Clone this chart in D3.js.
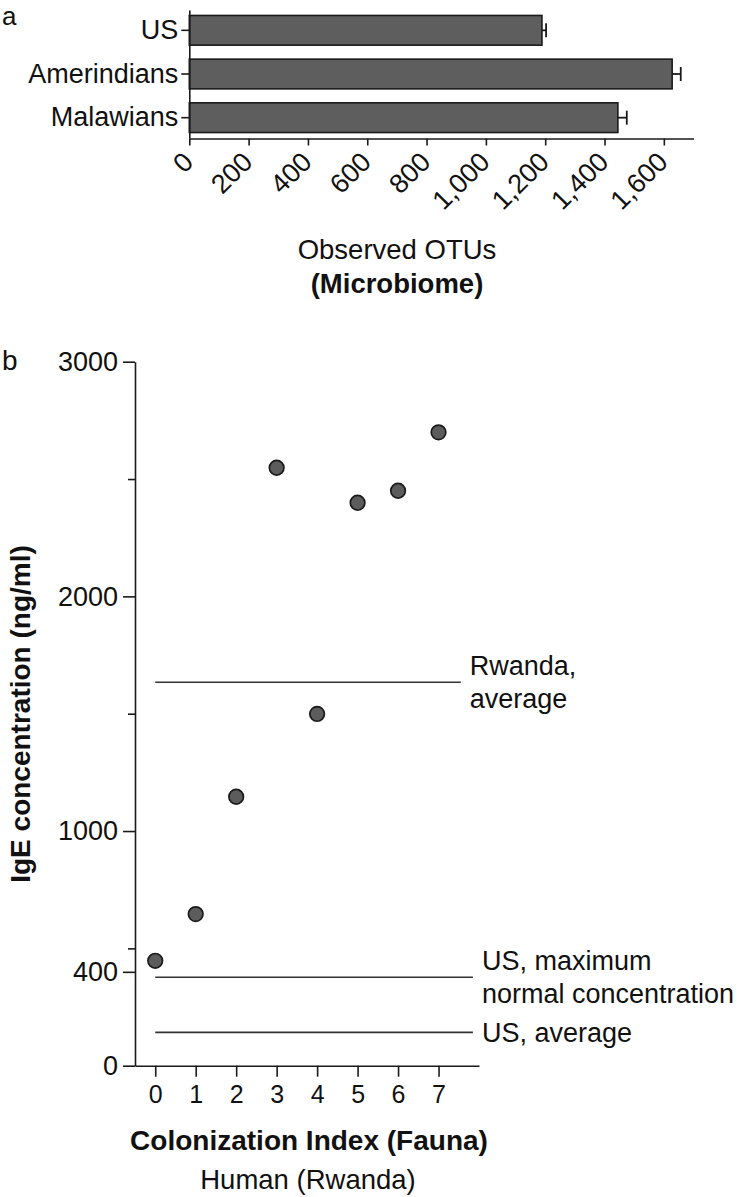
<!DOCTYPE html>
<html>
<head>
<meta charset="utf-8">
<script src="https://cdn.jsdelivr.net/npm/d3@7"></script>
<style>
  html, body { margin: 0; padding: 0; background: #fff; }
  svg text { font-family: "Liberation Sans", Arial, Helvetica, sans-serif; fill: #111; }
</style>
</head>
<body>
<svg id="chart" width="746" height="1197"></svg>
<script>
// ---------- Panel a data ----------
const groups = ["US", "Amerindians", "Malawians"];
const otus = [1189, 1628, 1445];
const otuErr = [14, 29, 30];
const otuTicks = [0, 200, 400, 600, 800, 1000, 1200, 1400, 1600];

// ---------- Panel b data ----------
const colonization = [0, 1, 2, 3, 4, 5, 6, 7];
const ige = [447, 646, 1146, 2548, 1499, 2399, 2450, 2699];
const igeTicks = [0, 400, 1000, 2000, 3000];
const igeMinorTicks = [500, 1500, 2500];
const colTicks = [0, 1, 2, 3, 4, 5, 6, 7];
const refNames = [["Rwanda,", "average"], ["US, maximum", "normal concentration"], ["US, average"]];
const refValues = [1634, 377, 142];
const refEnds = [7.55, 7.85, 7.85];

const svg = d3.select("#chart");
const ink = "#1a1a1a";

// ================= Panel a =================
const xa = d3.scaleLinear().domain([0, 1700]).range([189.3, 693.5]);
const ya = d3.scaleBand().domain(groups).range([10, 138]).paddingInner(0.32).paddingOuter(0.125);

svg.append("text").attr("x", 2).attr("y", 25).attr("font-size", 26).text("a");

const ga = svg.append("g");
ga.selectAll("rect.bar").data(groups).join("rect")
  .attr("class", "bar")
  .attr("x", xa(0))
  .attr("y", d => ya(d))
  .attr("width", (d, i) => xa(otus[i]) - xa(0))
  .attr("height", ya.bandwidth())
  .attr("fill", "#5e5e5e")
  .attr("stroke", ink).attr("stroke-width", 1.6);

// error bars (one-sided)
ga.selectAll("line.err").data(groups).join("line")
  .attr("x1", (d, i) => xa(otus[i]))
  .attr("x2", (d, i) => xa(otus[i] + otuErr[i]))
  .attr("y1", d => ya(d) + ya.bandwidth() / 2)
  .attr("y2", d => ya(d) + ya.bandwidth() / 2)
  .attr("stroke", ink).attr("stroke-width", 1.8);
ga.selectAll("line.cap").data(groups).join("line")
  .attr("x1", (d, i) => xa(otus[i] + otuErr[i]))
  .attr("x2", (d, i) => xa(otus[i] + otuErr[i]))
  .attr("y1", d => ya(d) + ya.bandwidth() / 2 - 7)
  .attr("y2", d => ya(d) + ya.bandwidth() / 2 + 7)
  .attr("stroke", ink).attr("stroke-width", 1.8);

// y axis (categories)
const yAxisA = svg.append("g").attr("transform", `translate(${xa(0)},0)`)
  .call(d3.axisLeft(ya).tickSize(8).tickSizeOuter(0).tickPadding(3));
yAxisA.selectAll("text").attr("font-size", 27).attr("fill", "#111");

// x axis
const xAxisA = svg.append("g").attr("transform", `translate(0,138.5)`)
  .call(d3.axisBottom(xa).tickValues(otuTicks).tickFormat(d3.format(",")).tickSize(7).tickSizeOuter(0));
xAxisA.selectAll("text")
  .attr("font-size", 27).attr("fill", "#111")
  .attr("x", 0).attr("y", 0).attr("dy", 0)
  .attr("text-anchor", "end")
  .attr("transform", "translate(5,25) rotate(-45)");

svg.append("text").attr("x", 397).attr("y", 259).attr("text-anchor", "middle")
  .attr("font-size", 27.5).text("Observed OTUs");
svg.append("text").attr("x", 397).attr("y", 293).attr("text-anchor", "middle")
  .attr("font-size", 27.5).attr("font-weight", "bold").text("(Microbiome)");

// style axes
svg.selectAll(".domain, .tick line").attr("stroke", ink).attr("stroke-width", 1.6);

// ================= Panel b =================
const xb = d3.scaleLinear().domain([-0.5, 8]).range([135, 479]);
const yb = d3.scaleLinear().domain([0, 3000]).range([1065.7, 361.7]);

svg.append("text").attr("x", 2).attr("y", 370).attr("font-size", 28).text("b");

const yAxisB = svg.append("g").attr("transform", `translate(${xb.range()[0]},0)`)
  .call(d3.axisLeft(yb).tickValues(igeTicks).tickFormat(d3.format("d")).tickSize(12).tickSizeOuter(0).tickPadding(5));
yAxisB.selectAll("text").attr("font-size", 27).attr("fill", "#111");
const yMinorB = svg.append("g").attr("transform", `translate(${xb.range()[0]},0)`)
  .call(d3.axisLeft(yb).tickValues(igeMinorTicks).tickFormat("").tickSize(7).tickSizeOuter(0));
yMinorB.select(".domain").remove();

const xAxisB = svg.append("g").attr("transform", `translate(0,${yb(0)})`)
  .call(d3.axisBottom(xb).tickValues(colTicks).tickSize(11).tickSizeOuter(0).tickPadding(8.5));
xAxisB.selectAll("text").attr("font-size", 25).attr("fill", "#111");

svg.selectAll(".domain, .tick line").attr("stroke", ink).attr("stroke-width", 1.6);

// reference lines
const gb = svg.append("g");
gb.selectAll("line.ref").data(refValues).join("line")
  .attr("class", "ref")
  .attr("x1", xb(0)).attr("x2", (d, i) => xb(refEnds[i]))
  .attr("y1", d => yb(d)).attr("y2", d => yb(d))
  .attr("stroke", "#333").attr("stroke-width", 1.6);

const lineH = 33, capH = 0.716 * 27;
refNames.forEach((lines, i) => {
  const t = gb.append("text").attr("font-size", 27);
  const y0 = yb(refValues[i]) - (lines.length - 1) * lineH / 2 + capH / 2;
  lines.forEach((s, j) => {
    t.append("tspan").attr("x", xb(refEnds[i]) + 9).attr("y", y0 + j * lineH).text(s);
  });
});

// dots
gb.selectAll("circle").data(colonization).join("circle")
  .attr("cx", d => xb(d))
  .attr("cy", (d, i) => yb(ige[i]))
  .attr("r", 7.3)
  .attr("fill", "#5c5c5c")
  .attr("stroke", ink).attr("stroke-width", 1.7);

// axis titles
svg.append("text")
  .attr("transform", `translate(30,714) rotate(-90)`)
  .attr("text-anchor", "middle").attr("font-size", 28).attr("font-weight", "bold")
  .text("IgE concentration (ng/ml)");
svg.append("text").attr("x", 309).attr("y", 1150).attr("text-anchor", "middle")
  .attr("font-size", 28).attr("font-weight", "bold").text("Colonization Index (Fauna)");
svg.append("text").attr("x", 308).attr("y", 1189).attr("text-anchor", "middle")
  .attr("font-size", 27.5).text("Human (Rwanda)");
</script>
</body>
</html>
